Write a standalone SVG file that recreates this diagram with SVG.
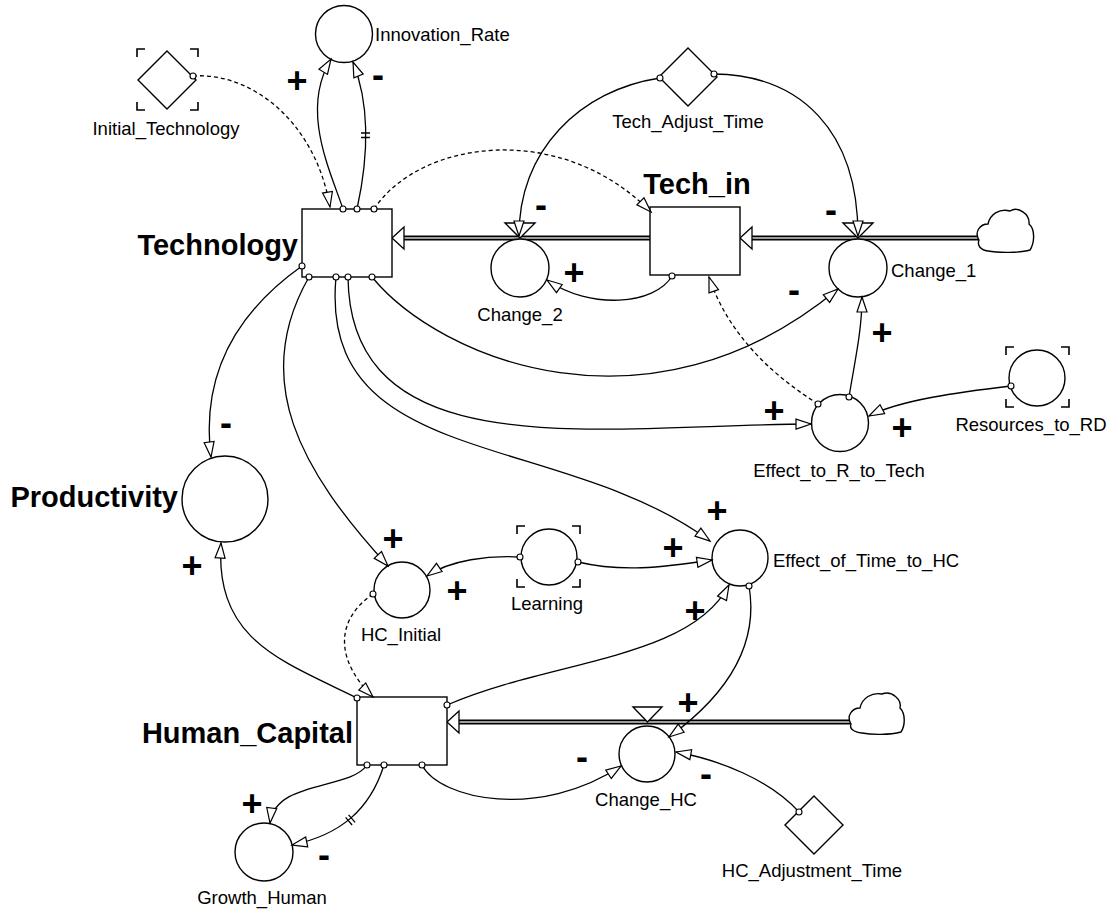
<svg xmlns="http://www.w3.org/2000/svg" width="1119" height="910" viewBox="0 0 1119 910">
  <style>
    .lbl { font-family: "Liberation Sans", Arial, sans-serif; font-size: 18.5px; fill: #000; }
    .big { font-family: "Liberation Sans", Arial, sans-serif; font-size: 29px; font-weight: bold; fill: #000; }
    .sign { font-family: "Liberation Sans", Arial, sans-serif; font-size: 36px; font-weight: bold; fill: #000; text-anchor: middle; }
    .mid { text-anchor: middle; }
    .end { text-anchor: end; }
    .node { fill: #fff; stroke: #000; stroke-width: 1.4; }
    .brk { fill: none; stroke: #000; stroke-width: 1.6; }
    .con { fill: none; stroke: #000; stroke-width: 1.3; marker-end: url(#arr); }
    .dash { stroke-dasharray: 4 3; }
    .pt { fill: #fff; stroke: #000; stroke-width: 1.1; }
    .pipe { fill: none; stroke: #000; stroke-width: 5; }
    .pipein { fill: none; stroke: #d0d0d0; stroke-width: 1.5; }
    .head { fill: #fff; stroke: #000; stroke-width: 1.3; }
    .tick { stroke: #000; stroke-width: 1.3; }
  </style>
  <defs>
    <marker id="arr" markerUnits="userSpaceOnUse" markerWidth="16" markerHeight="12" refX="15" refY="5" orient="auto" style="overflow:visible">
      <path d="M0,0 L15,5 L0,10 Z" fill="#fff" stroke="#000" stroke-width="1.2"/>
    </marker>
  </defs>
  <rect width="1119" height="910" fill="#fff"/>

  <!-- material flows (pipes, clouds, valves) -->
  <g id="flows">
    <path class="pipe" d="M404,238 H650"/>
    <path class="pipein" d="M404,238 H650"/>
    <polygon class="head" points="392,238 404,227 404,249"/>
    <path class="pipe" d="M752,238 H980"/>
    <path class="pipein" d="M752,238 H980"/>
    <polygon class="head" points="740,238 752,227 752,249"/>
    <path class="pipe" d="M459,722 H852"/>
    <path class="pipein" d="M459,722 H852"/>
    <polygon class="head" points="447,722 459,711 459,733"/>
    <path id="cloud_tech" class="node" d="M979,240 C974,232 980,224 988,224 C990,214 1000,208 1010,211 C1018,206 1030,214 1029,224 C1036,230 1034,244 1030,250 C1020,253 998,253 988,251 C980,250 977,245 979,240 Z"/>
    <path id="cloud_hc" class="node" d="M851,724 C846,716 852,708 860,708 C862,698 872,692 882,694 C892,690 902,700 900,708 C906,714 905,726 901,732 C890,735 872,735 862,733 C854,732 849,729 851,724 Z"/>
    <polygon class="node" points="505,223 535,223 520,238"/>
    <polygon class="node" points="843,223 873,223 858,238"/>
    <polygon class="node" points="633,707 662,707 647.5,722"/>
  </g>

  <!-- stocks -->
  <g id="Technology">
    <rect class="node" x="302" y="209" width="90" height="68"/>
    <text class="big end" x="298" y="255">Technology</text>
  </g>
  <g id="Tech_in">
    <rect class="node" x="650" y="207" width="90" height="68"/>
    <text class="big mid" x="697" y="194">Tech_in</text>
  </g>
  <g id="Human_Capital">
    <rect class="node" x="357" y="697" width="90" height="68"/>
    <text class="big end" x="353" y="743">Human_Capital</text>
  </g>

  <!-- rates -->
  <g id="Change_2">
    <circle class="node" cx="520" cy="268" r="29"/>
    <text class="lbl mid" x="520" y="321">Change_2</text>
  </g>
  <g id="Change_1">
    <circle class="node" cx="858" cy="268" r="29"/>
    <text class="lbl" x="891" y="277">Change_1</text>
  </g>
  <g id="Change_HC">
    <circle class="node" cx="647" cy="754" r="28"/>
    <text class="lbl mid" x="646" y="806">Change_HC</text>
  </g>

  <!-- auxiliaries -->
  <g id="Innovation_Rate">
    <circle class="node" cx="344" cy="34" r="28.5"/>
    <text class="lbl" x="375" y="41">Innovation_Rate</text>
  </g>
  <g id="Initial_Technology">
    <path class="brk" d="M137,57 V49 H145 M190,49 H198 V57 M198,102 V110 H190 M145,110 H137 V102"/>
    <polygon class="node" points="167,51 196,80 167,109 138,80"/>
    <text class="lbl mid" x="166" y="135">Initial_Technology</text>
  </g>
  <g id="Tech_Adjust_Time">
    <polygon class="node" points="688,48 717,77 688,106 659,77"/>
    <text class="lbl mid" x="688" y="128">Tech_Adjust_Time</text>
  </g>
  <g id="Effect_to_R_to_Tech">
    <circle class="node" cx="840" cy="423" r="28.5"/>
    <text class="lbl mid" x="839" y="477">Effect_to_R_to_Tech</text>
  </g>
  <g id="Resources_to_RD">
    <path class="brk" d="M1006,355 V347 H1014 M1061,347 H1069 V355 M1069,399 V407 H1061 M1014,407 H1006 V399"/>
    <circle class="node" cx="1037" cy="378" r="28"/>
    <text class="lbl mid" x="1031" y="431">Resources_to_RD</text>
  </g>
  <g id="Productivity">
    <circle class="node" cx="225" cy="499" r="43"/>
    <text class="big end" x="178" y="507">Productivity</text>
  </g>
  <g id="HC_Initial">
    <circle class="node" cx="402" cy="590" r="28"/>
    <text class="lbl mid" x="401" y="641">HC_Initial</text>
  </g>
  <g id="Learning">
    <path class="brk" d="M517,534 V526 H525 M572,526 H580 V534 M580,579 V587 H572 M525,587 H517 V579"/>
    <circle class="node" cx="549" cy="557" r="28"/>
    <text class="lbl mid" x="547" y="610">Learning</text>
  </g>
  <g id="Effect_of_Time_to_HC">
    <circle class="node" cx="740" cy="558" r="28"/>
    <text class="lbl" x="773" y="567">Effect_of_Time_to_HC</text>
  </g>
  <g id="HC_Adjustment_Time">
    <polygon class="node" points="814,796 843,825 814,854 785,825"/>
    <text class="lbl mid" x="812" y="877">HC_Adjustment_Time</text>
  </g>
  <g id="Growth_Human">
    <circle class="node" cx="264" cy="852" r="29"/>
    <text class="lbl mid" x="262" y="904">Growth_Human</text>
  </g>

  <!-- information links -->
  <g id="connectors">
    <path class="con dash" d="M193,76 C250,72 315,120 330,207"/>
    <path class="con" d="M343,209 C330,170 300,110 331,59"/>
    <path class="con" d="M357,209 C370,150 368,100 353,62"/>
    <path class="tick" d="M361,133 H370 M361,137.5 H370"/>
    <path class="con dash" d="M374,209 C420,140 560,120 651,212"/>
    <path class="con" d="M660,78 C580,90 519,150 519,236"/>
    <path class="con" d="M714,74 C800,75 858,130 858,236"/>
    <path class="con" d="M672,276 C655,305 590,310 547,280"/>
    <path class="con" d="M372,277 C440,360 650,445 838,289"/>
    <path class="con" d="M348,277 C350,470 600,425 811,424"/>
    <path class="con" d="M336,277 C318,470 560,430 710,541"/>
    <path class="con" d="M309,277 C250,380 300,470 388,566"/>
    <path class="con" d="M302,266 C240,310 200,370 211,457"/>
    <path class="con" d="M357,698 C280,660 215,640 221,543"/>
    <path class="con dash" d="M373,594 C335,620 335,660 373,697"/>
    <path class="con" d="M520,557 C490,555 450,560 427,576"/>
    <path class="con" d="M578,562 C620,572 660,568 712,560"/>
    <path class="con" d="M447,705 C550,660 690,660 729,585"/>
    <path class="con" d="M749,586 C760,650 720,700 669,737"/>
    <path class="con" d="M422,765 C440,800 540,820 621,766"/>
    <path class="con" d="M799,812 C770,780 720,760 676,752"/>
    <path class="con" d="M367,765 C350,790 275,780 270,823"/>
    <path class="con" d="M384,765 C370,810 340,835 292,845"/>
    <path class="tick" d="M345.6,817.4 L352.1,825 M348.6,814.8 L355.1,822.4"/>
    <path class="con" d="M849,397 C855,360 862,330 862,297"/>
    <path class="con" d="M1011,386 C960,392 900,400 869,416"/>
    <path class="con dash" d="M818,404 C780,380 730,340 709,277"/>

    <!-- link attachment points -->
    <circle class="pt" cx="193" cy="76" r="3"/>
    <circle class="pt" cx="343" cy="209" r="3"/>
    <circle class="pt" cx="357" cy="209" r="3"/>
    <circle class="pt" cx="374" cy="209" r="3"/>
    <circle class="pt" cx="302" cy="266" r="3"/>
    <circle class="pt" cx="309" cy="277" r="3"/>
    <circle class="pt" cx="336" cy="277" r="3"/>
    <circle class="pt" cx="348" cy="277" r="3"/>
    <circle class="pt" cx="372" cy="277" r="3"/>
    <circle class="pt" cx="660" cy="78" r="3"/>
    <circle class="pt" cx="714" cy="74" r="3"/>
    <circle class="pt" cx="672" cy="276" r="3"/>
    <circle class="pt" cx="818" cy="404" r="3"/>
    <circle class="pt" cx="849" cy="397" r="3"/>
    <circle class="pt" cx="1011" cy="386" r="3"/>
    <circle class="pt" cx="373" cy="594" r="3"/>
    <circle class="pt" cx="520" cy="557" r="3"/>
    <circle class="pt" cx="578" cy="562" r="3"/>
    <circle class="pt" cx="749" cy="586" r="3"/>
    <circle class="pt" cx="357" cy="698" r="3"/>
    <circle class="pt" cx="447" cy="705" r="3"/>
    <circle class="pt" cx="367" cy="765" r="3"/>
    <circle class="pt" cx="384" cy="765" r="3"/>
    <circle class="pt" cx="422" cy="765" r="3"/>
    <circle class="pt" cx="799" cy="812" r="3"/>
  </g>

  <!-- link polarities -->
  <g id="polarities">
    <text class="sign" x="297" y="93">+</text>
    <text class="sign" x="378" y="87">-</text>
    <text class="sign" x="541" y="217">-</text>
    <text class="sign" x="574" y="285">+</text>
    <text class="sign" x="831" y="222">-</text>
    <text class="sign" x="794" y="302">-</text>
    <text class="sign" x="882" y="345">+</text>
    <text class="sign" x="774" y="423">+</text>
    <text class="sign" x="902" y="440">+</text>
    <text class="sign" x="226" y="435">-</text>
    <text class="sign" x="192" y="578">+</text>
    <text class="sign" x="393" y="551">+</text>
    <text class="sign" x="457" y="603">+</text>
    <text class="sign" x="717" y="523">+</text>
    <text class="sign" x="673" y="560">+</text>
    <text class="sign" x="695" y="623">+</text>
    <text class="sign" x="688" y="715">+</text>
    <text class="sign" x="582" y="769">-</text>
    <text class="sign" x="706" y="786">-</text>
    <text class="sign" x="252" y="816">+</text>
    <text class="sign" x="324" y="867">-</text>
  </g>
</svg>
